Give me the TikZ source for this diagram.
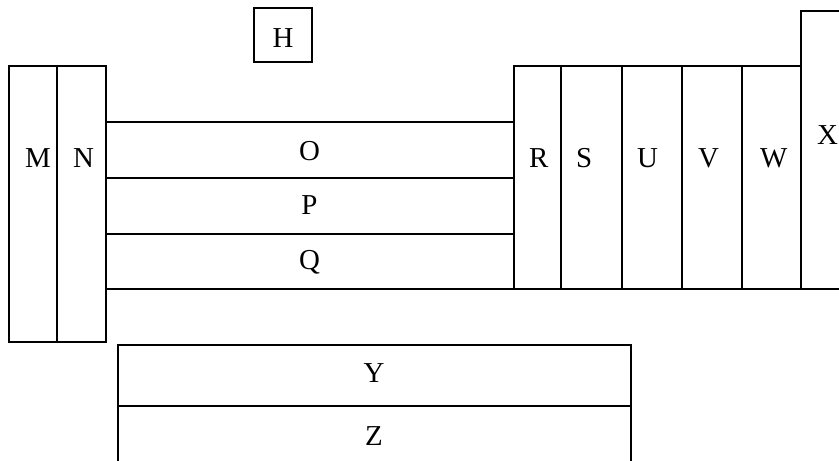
\documentclass[tikz,border=0pt]{standalone}
\usepackage{fontspec}
\setmainfont{Liberation Serif}
\tikzset{
  cellbox/.style={draw=black, line width=1.8bp, inner sep=0pt, outer sep=0pt, rectangle},
  lbl/.style={inner sep=0pt, outer sep=0pt, font=\fontsize{29}{34}\selectfont},
}
\begin{document}
\begin{tikzpicture}[x=1bp,y=-1bp]
\useasboundingbox (0,0) rectangle (839,461);
\clip (0,0) rectangle (839,461);
% cells
\node[cellbox, minimum width=58bp, minimum height=54bp] (Hc) at (283,35) {};
\node[cellbox, minimum width=48bp, minimum height=276bp] (Mc) at (33,204) {};
\node[cellbox, minimum width=49bp, minimum height=276bp] (Nc) at (81.5,204) {};
\node[cellbox, minimum width=408bp, minimum height=56bp] (Oc) at (310,150) {};
\node[cellbox, minimum width=408bp, minimum height=56bp] (Pc) at (310,206) {};
\node[cellbox, minimum width=408bp, minimum height=55bp] (Qc) at (310,261.5) {};
\node[cellbox, minimum width=47bp, minimum height=223bp] (Rc) at (537.5,177.5) {};
\node[cellbox, minimum width=61bp, minimum height=223bp] (Sc) at (591.5,177.5) {};
\node[cellbox, minimum width=60bp, minimum height=223bp] (Uc) at (652,177.5) {};
\node[cellbox, minimum width=60bp, minimum height=223bp] (Vc) at (712,177.5) {};
\node[cellbox, minimum width=59bp, minimum height=223bp] (Wc) at (771.5,177.5) {};
\node[cellbox, minimum width=54bp, minimum height=278bp] (Xc) at (828,150) {};
\node[cellbox, minimum width=513bp, minimum height=61bp] (Yc) at (374.5,375.5) {};
\node[cellbox, minimum width=513bp, minimum height=61bp] (Zc) at (374.5,436.5) {};
% labels
\node[lbl, anchor=base] (H) at (283,48) {H};
\node[lbl, anchor=base west] (M) at (25,168) {M};
\node[lbl, anchor=base west] (N) at (73,168) {N};
\node[lbl, anchor=base] (O) at (309.5,161) {O};
\node[lbl, anchor=base] (P) at (309.5,215) {P};
\node[lbl, anchor=base] (Q) at (309.5,269.5) {Q};
\node[lbl, anchor=base west] (R) at (529,168) {R};
\node[lbl, anchor=base west] (S) at (576,168) {S};
\node[lbl, anchor=base west] (U) at (637,168) {U};
\node[lbl, anchor=base west] (V) at (698,168) {V};
\node[lbl, anchor=base west] (W) at (760,168) {W};
\node[lbl, anchor=base west] (X) at (817,145) {X};
\node[lbl, anchor=base] (Y) at (374,383) {Y};
\node[lbl, anchor=base] (Z) at (374,445) {Z};
\end{tikzpicture}
\end{document}
